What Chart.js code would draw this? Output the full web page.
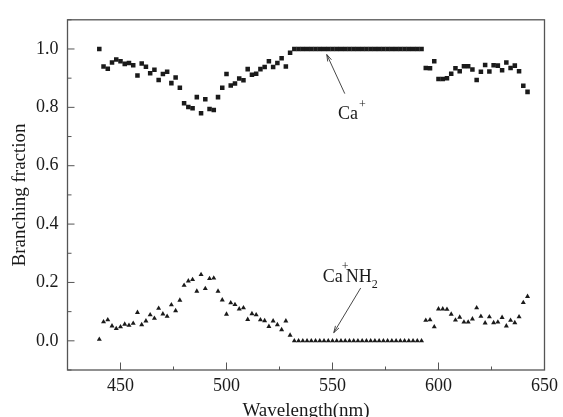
<!DOCTYPE html>
<html>
<head>
<meta charset="utf-8">
<script src="https://cdn.jsdelivr.net/npm/chart.js@4.4.1/dist/chart.umd.min.js"></script>
<style>
  body { margin: 0; background: #fff; }
  #box { width: 563px; height: 417px; }
</style>
</head>
<body>
<div id="box"><canvas id="grafico"></canvas></div>
<script>
// DATA //
const wavelength = [
  440, 442, 444, 446, 448, 450, 452, 454, 456, 458,
  460, 462, 464, 466, 468, 470, 472, 474, 476, 478,
  480, 482, 484, 486, 488, 490, 492, 494, 496, 498,
  500, 502, 504, 506, 508, 510, 512, 514, 516, 518,
  520, 522, 524, 526, 528, 530, 532, 534, 536, 538,
  540, 542, 544, 546, 548, 550, 552, 554, 556, 558,
  560, 562, 564, 566, 568, 570, 572, 574, 576, 578,
  580, 582, 584, 586, 588, 590, 592, 594, 596, 598,
  600, 602, 604, 606, 608, 610, 612, 614, 616, 618,
  620, 622, 624, 626, 628, 630, 632, 634, 636, 638,
  640, 642
];

const caPlus = [
  1.000, 0.940, 0.932, 0.954, 0.964, 0.958, 0.949, 0.952, 0.944, 0.909,
  0.950, 0.939, 0.917, 0.929, 0.894, 0.914, 0.922, 0.883, 0.902, 0.867,
  0.814, 0.801, 0.797, 0.835, 0.780, 0.828, 0.794, 0.791, 0.835, 0.867,
  0.914, 0.875, 0.882, 0.899, 0.893, 0.931, 0.912, 0.915, 0.931, 0.938,
  0.958, 0.938, 0.952, 0.968, 0.940, 0.987, 1.000, 1.000, 1.000, 1.000,
  1.000, 1.000, 1.000, 1.000, 1.000, 1.000, 1.000, 1.000, 1.000, 1.000,
  1.000, 1.000, 1.000, 1.000, 1.000, 1.000, 1.000, 1.000, 1.000, 1.000,
  1.000, 1.000, 1.000, 1.000, 1.000, 1.000, 1.000, 0.935, 0.934, 0.958,
  0.897, 0.897, 0.900, 0.915, 0.934, 0.924, 0.941, 0.941, 0.930, 0.894,
  0.922, 0.945, 0.923, 0.944, 0.943, 0.927, 0.954, 0.935, 0.943, 0.924,
  0.874, 0.853
];

const caNH2 = [
  0.005, 0.065, 0.072, 0.051, 0.042, 0.048, 0.057, 0.053, 0.060, 0.097,
  0.055, 0.068, 0.089, 0.077, 0.111, 0.092, 0.084, 0.123, 0.103, 0.139,
  0.190, 0.205, 0.210, 0.170, 0.227, 0.179, 0.213, 0.215, 0.170, 0.140,
  0.091, 0.130, 0.124, 0.109, 0.113, 0.073, 0.093, 0.089, 0.072, 0.069,
  0.049, 0.068, 0.055, 0.038, 0.068, 0.019, 0.000, 0.000, 0.000, 0.000,
  0.000, 0.000, 0.000, 0.000, 0.000, 0.000, 0.000, 0.000, 0.000, 0.000,
  0.000, 0.000, 0.000, 0.000, 0.000, 0.000, 0.000, 0.000, 0.000, 0.000,
  0.000, 0.000, 0.000, 0.000, 0.000, 0.000, 0.000, 0.070, 0.072, 0.048,
  0.109, 0.109, 0.108, 0.091, 0.071, 0.081, 0.064, 0.064, 0.075, 0.113,
  0.084, 0.061, 0.082, 0.062, 0.064, 0.080, 0.051, 0.070, 0.062, 0.082,
  0.131, 0.152
];

// tick labels
const xTickLabels = [450, 500, 550, 600, 650];
const yTickLabels = ["0.0", "0.2", "0.4", "0.6", "0.8", "1.0"];

// annotations (label baseline start, arrow tail, arrow head) in data units
const labelCa = { x: 552.6, y: 0.76, tail: [555.8, 0.847], head: [547.3, 0.981] };
const labelCaNH2 = { x: 545.4, y: 0.201, tail: [563.3, 0.181], head: [550.6, 0.028] };

const SERIF = "'Liberation Serif', 'DejaVu Serif', serif";
const INK = "#1a1a1a";
const AXIS = "#555";

function toPoints(values) {
    return wavelength.map((w, i) => ({ x: w, y: values[i] }));
}

// frame + inward ticks
const framePlugin = {
    id: "frame",
    afterDraw(chart) {
        const ctx = chart.ctx;
        const a = chart.chartArea;
        const xs = chart.scales.x;
        const ys = chart.scales.y;
        ctx.save();
        ctx.strokeStyle = AXIS;
        ctx.lineWidth = 1.3;
        ctx.strokeRect(a.left, a.top, a.right - a.left, a.bottom - a.top);
        ctx.lineWidth = 1;
        ctx.beginPath();
        xs.ticks.forEach((t) => {
            const px = xs.getPixelForValue(t.value);
            const len = t.value % 50 === 0 ? 7.5 : 3.5;
            ctx.moveTo(px, a.bottom);
            ctx.lineTo(px, a.bottom - len);
        });
        ys.ticks.forEach((t) => {
            const py = ys.getPixelForValue(t.value);
            const v = Math.round(t.value * 10);
            const len = v % 2 === 0 ? 7 : 4;
            ctx.moveTo(a.left, py);
            ctx.lineTo(a.left + len, py);
        });
        ctx.stroke();
        ctx.restore();
    }
};

function arrow(ctx, x1, y1, x2, y2) {
    const ang = Math.atan2(y2 - y1, x2 - x1);
    const h = 7;
    ctx.beginPath();
    ctx.moveTo(x1, y1);
    ctx.lineTo(x2, y2);
    ctx.moveTo(x2 - h * Math.cos(ang - 0.3), y2 - h * Math.sin(ang - 0.3));
    ctx.lineTo(x2, y2);
    ctx.lineTo(x2 - h * Math.cos(ang + 0.3), y2 - h * Math.sin(ang + 0.3));
    ctx.stroke();
}

const notesPlugin = {
    id: "notes",
    afterDatasetsDraw(chart) {
        const ctx = chart.ctx;
        const xs = chart.scales.x;
        const ys = chart.scales.y;
        const px = (v) => xs.getPixelForValue(v);
        const py = (v) => ys.getPixelForValue(v);
        ctx.save();
        ctx.fillStyle = INK;
        ctx.strokeStyle = "#333";
        ctx.lineWidth = 0.9;
        ctx.textBaseline = "alphabetic";

        // Ca+
        let x = px(labelCa.x), y = py(labelCa.y);
        ctx.font = "18px " + SERIF;
        ctx.fillText("Ca", x, y);
        x += ctx.measureText("Ca").width;
        ctx.font = "12px " + SERIF;
        ctx.fillText("+", x + 1, y - 11);
        arrow(ctx, px(labelCa.tail[0]), py(labelCa.tail[1]), px(labelCa.head[0]), py(labelCa.head[1]));

        // Ca+NH2
        x = px(labelCaNH2.x); y = py(labelCaNH2.y);
        ctx.font = "18px " + SERIF;
        ctx.fillText("Ca", x, y);
        x += ctx.measureText("Ca").width;
        ctx.font = "12px " + SERIF;
        ctx.fillText("+", x - 1, y - 12);
        x += 3;
        ctx.font = "18px " + SERIF;
        ctx.fillText("NH", x, y);
        x += ctx.measureText("NH").width;
        ctx.font = "12px " + SERIF;
        ctx.fillText("2", x, y + 6);
        arrow(ctx, px(labelCaNH2.tail[0]), py(labelCaNH2.tail[1]), px(labelCaNH2.head[0]), py(labelCaNH2.head[1]));
        ctx.restore();
    }
};

const chart = new Chart(document.getElementById("grafico"), {
    type: "scatter",
    data: {
        datasets: [{
            label: "Ca+",
            data: toPoints(caPlus),
            pointStyle: "rect",
            pointRadius: 3.2,
            pointHoverRadius: 3.2,
            backgroundColor: INK,
            borderColor: INK,
            borderWidth: 0
        }, {
            label: "Ca+NH2",
            data: toPoints(caNH2),
            pointStyle: "triangle",
            pointRadius: 2.9,
            pointHoverRadius: 2.9,
            backgroundColor: INK,
            borderColor: INK,
            borderWidth: 0
        }]
    },
    options: {
        responsive: true,
        maintainAspectRatio: false,
        animation: false,
        layout: { padding: { top: 12, right: 16, left: 0, bottom: 0 } },
        plugins: {
            legend: { display: false },
            tooltip: { enabled: false }
        },
        scales: {
            x: {
                type: "linear",
                min: 425,
                max: 650,
                afterFit: (s) => { s.height = 47; },
                grid: { display: false, drawTicks: false },
                border: { display: false },
                ticks: {
                    stepSize: 25,
                    autoSkip: false,
                    maxRotation: 0,
                    padding: 5,
                    color: INK,
                    font: { family: SERIF, size: 18 },
                    callback: (v) => xTickLabels.includes(v) ? String(v) : ""
                },
                title: {
                    display: true,
                    text: "Wavelength(nm)",
                    color: INK,
                    font: { family: SERIF, size: 19, lineHeight: 0.6 },
                    padding: { top: 0, bottom: 0 }
                }
            },
            y: {
                min: -0.1,
                max: 1.1,
                afterFit: (s) => { s.width = 67.5; },
                grid: { display: false, drawTicks: false },
                border: { display: false },
                ticks: {
                    stepSize: 0.1,
                    autoSkip: false,
                    padding: 9,
                    color: INK,
                    font: { family: SERIF, size: 18 },
                    callback: (v) => {
                        const s = (Math.round(v * 10) / 10).toFixed(1);
                        return yTickLabels.includes(s) ? s : "";
                    }
                },
                title: {
                    display: true,
                    text: "Branching fraction",
                    color: INK,
                    font: { family: SERIF, size: 19 },
                    padding: { top: 8.5, bottom: 0 }
                }
            }
        }
    },
    plugins: [framePlugin, notesPlugin]
});
</script>
</body>
</html>
